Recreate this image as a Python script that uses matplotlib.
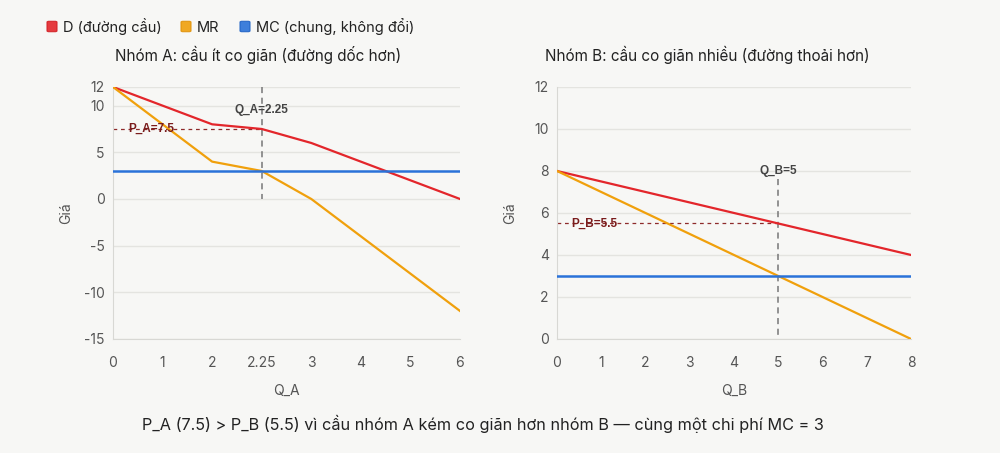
import matplotlib
matplotlib.use("Agg")
import matplotlib.pyplot as plt
from matplotlib.patches import FancyBboxPatch

# data
qa_labels = ["0", "1", "2", "2.25", "3", "4", "5", "6"]
demand_a = [12, 10, 8, 7.5, 6, 4, 2, 0]
mr_a = [12, 8, 4, 3, 0, -4, -8, -12]
qb = [0, 1, 2, 3, 4, 5, 6, 7, 8]
demand_b = [8, 7.5, 7, 6.5, 6, 5.5, 5, 4.5, 4]
mr_b = [8, 7, 6, 5, 4, 3, 2, 1, 0]
mc = 3
q_a_star, p_a_star = 2.25, 7.5
q_b_star, p_b_star = 5, 5.5

RED = "#e3262b"
ORANGE = "#f0a00c"
BLUE = "#2a72d9"
BG = "#f7f7f5"
GRID = "#e4e4e0"
TICK = "#555555"

plt.rcParams["font.family"] = ["Inter", "DejaVu Sans"]
plt.rcParams["axes.unicode_minus"] = False

fig = plt.figure(figsize=(10, 4.53), dpi=100, facecolor=BG)


def style_axes(ax):
    ax.set_facecolor(BG)
    for s in ["top", "right"]:
        ax.spines[s].set_visible(False)
    ax.spines["left"].set_color("#d8d8d4")
    ax.spines["bottom"].set_color("#d8d8d4")
    ax.grid(axis="y", color=GRID, linewidth=1)
    ax.set_axisbelow(True)
    ax.tick_params(length=0, colors=TICK, labelsize=10, pad=6)
    ax.tick_params(axis="x", pad=12)


# left panel
ax1 = fig.add_axes([0.113, 0.2517, 0.347, 0.5563])
style_axes(ax1)
xa = list(range(len(qa_labels)))
ax1.plot(xa, demand_a, color=RED, lw=1.6, zorder=3)
ax1.plot(xa, mr_a, color=ORANGE, lw=1.6, zorder=3)
ax1.plot([xa[0], xa[-1]], [mc, mc], color=BLUE, lw=1.8, zorder=3)
ia = qa_labels.index(str(q_a_star))
ax1.plot([ia, ia], [12, 0], color="#777777", lw=1.1, ls=(0, (4, 3)), zorder=2)
ax1.plot([0, ia], [p_a_star, p_a_star], color="#8e2a2a", lw=0.9, ls=(0, (3, 3)), zorder=2)
ax1.text(ia, 9.5, "Q_A=2.25", ha="center", va="center", fontsize=8.5,
         fontweight="bold", color="#444444", family="Liberation Sans", zorder=4)
ax1.text(0.3, p_a_star, "P_A=7.5", ha="left", va="center", fontsize=8.5,
         fontweight="bold", color="#7a1c1c", family="Liberation Sans", zorder=4)
ax1.set_xlim(0, len(qa_labels) - 1)
ax1.set_ylim(-15, 12)
ax1.set_xticks(xa)
ax1.set_xticklabels(qa_labels)
ax1.set_yticks([-15, -10, -5, 0, 5, 10, 12])
ax1.set_xlabel("Q_A", color=TICK, fontsize=10, labelpad=10)
ax1.set_ylabel("Giá", color=TICK, fontsize=10, labelpad=8)
ax1.set_title("Nhóm A: cầu ít co giãn (đường dốc hơn)", fontsize=11,
              color="#222222", pad=19, x=0.418)

# right panel
ax2 = fig.add_axes([0.557, 0.2517, 0.354, 0.5563])
style_axes(ax2)
ax2.plot(qb, demand_b, color=RED, lw=1.6, zorder=3)
ax2.plot(qb, mr_b, color=ORANGE, lw=1.6, zorder=3)
ax2.plot([qb[0], qb[-1]], [mc, mc], color=BLUE, lw=1.8, zorder=3)
ax2.plot([q_b_star, q_b_star], [7.6, 0], color="#777777", lw=1.1, ls=(0, (4, 3)), zorder=2)
ax2.plot([0, q_b_star], [p_b_star, p_b_star], color="#8e2a2a", lw=0.9, ls=(0, (3, 3)), zorder=2)
ax2.text(q_b_star, 8, "Q_B=5", ha="center", va="center", fontsize=8.5,
         fontweight="bold", color="#444444", family="Liberation Sans", zorder=4)
ax2.text(0.33, p_b_star, "P_B=5.5", ha="left", va="center", fontsize=8.5,
         fontweight="bold", color="#7a1c1c", family="Liberation Sans", zorder=4)
ax2.set_xlim(0, 8)
ax2.set_ylim(0, 12)
ax2.set_xticks(qb)
ax2.set_yticks([0, 2, 4, 6, 8, 10, 12])
ax2.set_xlabel("Q_B", color=TICK, fontsize=10, labelpad=10)
ax2.set_ylabel("Giá", color=TICK, fontsize=10, labelpad=12)
ax2.set_title("Nhóm B: cầu co giãn nhiều (đường thoải hơn)", fontsize=11,
              color="#222222", pad=19, x=0.424)

# legend at top
legend_items = [("D (đường cầu)", RED, "#d21f24", 0.047),
                ("MR", ORANGE, "#e0920a", 0.181),
                ("MC (chung, không đổi)", BLUE, "#1f62c4", 0.240)]
for label, fill, edge, x0 in legend_items:
    fig.patches.append(FancyBboxPatch((x0, 0.93), 0.010, 0.023,
                                      boxstyle="round,pad=0,rounding_size=0.002",
                                      transform=fig.transFigure, facecolor=fill,
                                      edgecolor=edge, linewidth=0.8, alpha=0.9))
    fig.text(x0 + 0.016, 0.93, label, ha="left", va="baseline", fontsize=10.5,
             color="#222222")

fig.text(0.483, 0.064, "P_A (7.5) > P_B (5.5) vì cầu nhóm A kém co giãn hơn nhóm B — cùng một chi phí MC = 3",
         ha="center", va="center", fontsize=11.7, color="#222222")

fig.savefig("out.png", dpi=100, facecolor=BG)
